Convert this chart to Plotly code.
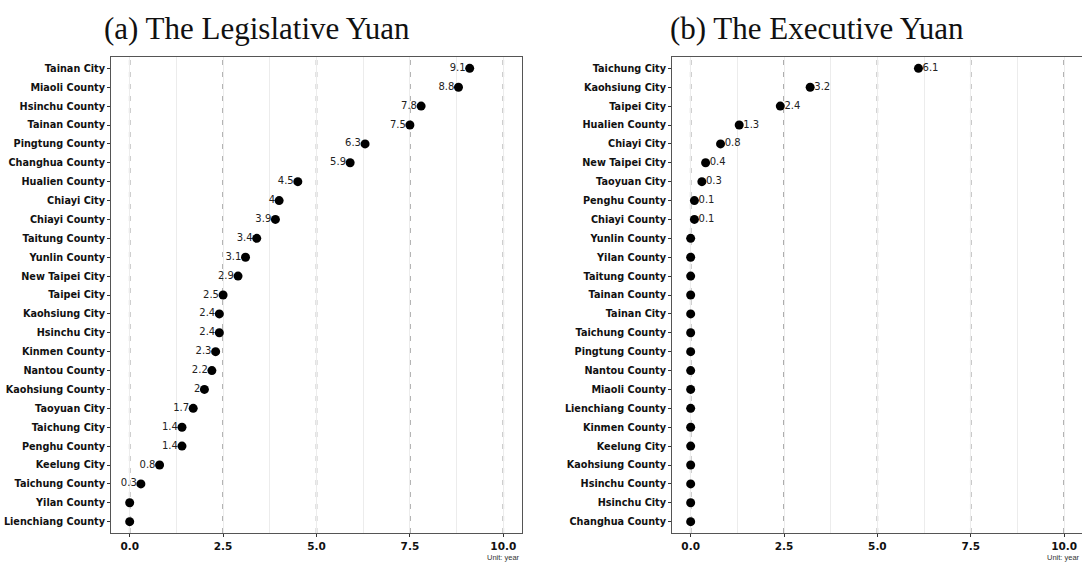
import plotly.graph_objects as go

# ---- data ----
leg_regions = ["Tainan City", "Miaoli County", "Hsinchu County", "Tainan County",
               "Pingtung County", "Changhua County", "Hualien County", "Chiayi City",
               "Chiayi County", "Taitung County", "Yunlin County", "New Taipei City",
               "Taipei City", "Kaohsiung City", "Hsinchu City", "Kinmen County",
               "Nantou County", "Kaohsiung County", "Taoyuan City", "Taichung City",
               "Penghu County", "Keelung City", "Taichung County", "Yilan County",
               "Lienchiang County"]
leg_values = [9.1, 8.8, 7.8, 7.5, 6.3, 5.9, 4.5, 4, 3.9, 3.4, 3.1, 2.9, 2.5, 2.4, 2.4,
              2.3, 2.2, 2, 1.7, 1.4, 1.4, 0.8, 0.3, 0, 0]

exe_regions = ["Taichung City", "Kaohsiung City", "Taipei City", "Hualien County",
               "Chiayi City", "New Taipei City", "Taoyuan City", "Penghu County",
               "Chiayi County", "Yunlin County", "Yilan County", "Taitung County",
               "Tainan County", "Tainan City", "Taichung County", "Pingtung County",
               "Nantou County", "Miaoli County", "Lienchiang County", "Kinmen County",
               "Keelung City", "Kaohsiung County", "Hsinchu County", "Hsinchu City",
               "Changhua County"]
exe_values = [6.1, 3.2, 2.4, 1.3, 0.8, 0.4, 0.3, 0.1, 0.1, 0, 0, 0, 0, 0, 0, 0, 0, 0,
              0, 0, 0, 0, 0, 0, 0]

x_ticks = [0, 2.5, 5, 7.5, 10]
x_ticklabels = ["0.0", "2.5", "5.0", "7.5", "10.0"]
titles = ["(a) The Legislative Yuan", "(b) The Executive Yuan"]
unit_label = "Unit: year"

# ---- figure ----
W, H = 1082, 568
fig = go.Figure()

def fmt(v):
    return "" if v == 0 else ("%g" % v)

LABEL_FONT = dict(family="DejaVu Sans", size=10, color="#222222")
TICK_FONT = dict(family="DejaVu Sans", size=9.7, color="#111111", weight="bold")

panels = [
    (leg_regions, leg_values, "x", "y", "middle left"),
    (exe_regions, exe_values, "x2", "y2", "middle right"),
]
for regions, values, xa, ya, tpos in panels:
    fig.add_trace(go.Scatter(
        x=values, y=regions, mode="markers+text", text=[fmt(v) for v in values],
        marker=dict(size=5, color="rgba(0,0,0,0)"),
        textposition=tpos, textfont=LABEL_FONT, xaxis=xa, yaxis=ya,
        showlegend=False, hoverinfo="skip"))
    fig.add_trace(go.Scatter(
        x=values, y=regions, mode="markers",
        marker=dict(color="black", size=9, line=dict(width=0)),
        xaxis=xa, yaxis=ya, showlegend=False))

# dashed reference lines
for xa, ya in [("x", "y"), ("x2", "y2")]:
    for t in x_ticks:
        fig.add_shape(type="line", xref=xa, yref=ya + " domain", x0=t, x1=t, y0=0, y1=1,
                      line=dict(color="#8f8f8f", width=1.5, dash="5px,7px"), layer="below")

ydom = [1 - 533 / H, 1 - 57 / H]
common_x = dict(tickvals=x_ticks, ticktext=x_ticklabels, ticks="outside", ticklen=3,
                tickcolor="#333333", tickfont=dict(family="DejaVu Sans", size=10.5,
                                                   color="#111111", weight="bold"),
                showline=True, linecolor="#555555", linewidth=1, mirror=True,
                showgrid=True, gridcolor="#ececec", gridwidth=1, zeroline=False,
                minor=dict(tickvals=[1.25, 3.75, 6.25, 8.75], showgrid=True,
                           gridcolor="#ececec", gridwidth=1, ticks=""))
common_y = dict(type="category", range=[24.6, -0.6], ticks="outside", ticklen=3,
                tickcolor="#333333", tickfont=TICK_FONT, showline=True,
                linecolor="#555555", linewidth=1, mirror=True, showgrid=False,
                zeroline=False, domain=ydom)

fig.update_layout(
    width=W, height=H, margin=dict(l=0, r=0, t=0, b=0),
    paper_bgcolor="white", plot_bgcolor="white",
    xaxis=dict(domain=[111 / W, 522 / W], range=[-0.5, 10.5], anchor="y", **common_x),
    yaxis=dict(anchor="x", categoryarray=leg_regions, **common_y),
    xaxis2=dict(domain=[672 / W, 1.0], range=[-0.5, 10.48], anchor="y2", **common_x),
    yaxis2=dict(anchor="x2", categoryarray=exe_regions, **common_y),
)

TITLE_FONT = dict(family="Liberation Serif", size=31, color="#111111")
fig.add_annotation(text=titles[0], x=257 / W, y=1 - 29 / H, xref="paper", yref="paper",
                   showarrow=False, xanchor="center", yanchor="middle", font=TITLE_FONT)
fig.add_annotation(text=titles[1], x=817 / W, y=1 - 29 / H, xref="paper", yref="paper",
                   showarrow=False, xanchor="center", yanchor="middle", font=TITLE_FONT)
for xr in ["x domain", "x2 domain"]:
    fig.add_annotation(text=unit_label, x=1.0, y=1 - 557 / H, xref=xr, yref="paper",
                       showarrow=False, xanchor="right", yanchor="middle",
                       font=dict(family="Liberation Sans", size=7.5, color="#333333"))

fig.write_html("out.html")
